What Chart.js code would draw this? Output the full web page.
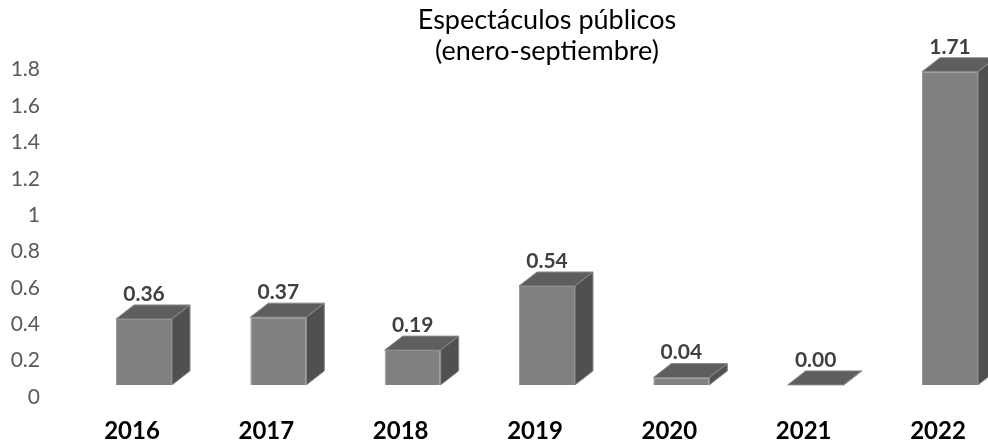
<!DOCTYPE html>
<html><head><meta charset="utf-8">
<script src="https://cdn.jsdelivr.net/npm/chart.js@4/dist/chart.umd.min.js"></script>
<style>html,body{margin:0;padding:0;background:#fff}#wrap{width:988px;height:445px;position:relative}</style>
</head><body><div id="wrap"><canvas id="c"></canvas></div>
<script>
const categories = ['2016', '2017', '2018', '2019', '2020', '2021', '2022'];
const values = [0.36, 0.37, 0.19, 0.54, 0.04, 0.00, 1.71];
const valueLabels = ['0.36', '0.37', '0.19', '0.54', '0.04', '0.00', '1.71'];
const titleLines = ['Espectáculos públicos', '(enero-septiembre)'];
const tickMin = 0, tickMax = 1.8, tickStep = 0.2;

const FONT = 'Lato, "Liberation Sans", sans-serif';
const DEPTH_X = 18, DEPTH_Y = 14;

const bar3d = {
  id: 'bar3d',
  afterDatasetsDraw(chart) {
    const ctx = chart.ctx;
    const meta = chart.getDatasetMeta(0);
    ctx.save();
    meta.data.forEach((el, i) => {
      const p = el.getProps(['x', 'y', 'base', 'width'], true);
      const l = p.x - p.width / 2, r = p.x + p.width / 2, t = p.y, b = p.base;
      // top face
      ctx.beginPath();
      ctx.moveTo(l, t); ctx.lineTo(l + DEPTH_X, t - DEPTH_Y);
      ctx.lineTo(r + DEPTH_X, t - DEPTH_Y); ctx.lineTo(r, t); ctx.closePath();
      ctx.fillStyle = '#5e5e5e'; ctx.fill();
      ctx.strokeStyle = '#8a8a8a'; ctx.lineWidth = 1; ctx.stroke();
      // side face
      ctx.beginPath();
      ctx.moveTo(r, t); ctx.lineTo(r + DEPTH_X, t - DEPTH_Y);
      ctx.lineTo(r + DEPTH_X, b - DEPTH_Y); ctx.lineTo(r, b); ctx.closePath();
      ctx.fillStyle = '#505050'; ctx.fill();
      ctx.strokeStyle = '#8a8a8a'; ctx.stroke();
      // value label
      ctx.fillStyle = '#404040';
      ctx.font = 'bold 21px ' + FONT;
      ctx.textAlign = 'center'; ctx.textBaseline = 'middle';
      ctx.fillText(valueLabels[i], p.x, t - 25);
    });
    ctx.restore();
  }
};

new Chart(document.getElementById('c'), {
  type: 'bar',
  data: {
    labels: categories,
    datasets: [{
      data: values,
      yAxisID: 'y',
      backgroundColor: '#808080',
      borderColor: '#9a9a9a',
      borderWidth: 1,
      barPercentage: 0.417,
      categoryPercentage: 1,
      clip: false
    }]
  },
  options: {
    responsive: true,
    maintainAspectRatio: false,
    animation: false,
    layout: { padding: { left: 0, right: 38, top: 0, bottom: 0 } },
    plugins: {
      legend: { display: false },
      tooltip: { enabled: false },
      title: {
        display: true,
        fullSize: false,
        text: titleLines,
        color: '#000',
        font: { family: FONT, size: 27, weight: 'normal', lineHeight: 1.18 },
        padding: { top: 4, bottom: 2 }
      }
    },
    scales: {
      x: {
        offset: false,
        grid: { display: false },
        border: { display: false },
        ticks: {
          color: '#000',
          font: { family: FONT, size: 24, weight: 'bold' },
          labelOffset: -12,
          padding: 12,
          autoSkip: false,
          maxRotation: 0
        },
        afterFit(s) { s.height = 48; s.paddingLeft = 0; s.paddingRight = 0; }
      },
      y: {
        display: false,
        min: -0.066,
        max: 1.721
      },
      yAxis: {
        position: 'left',
        min: tickMin,
        max: tickMax,
        grid: { display: false, drawTicks: false },
        border: { display: false },
        ticks: {
          stepSize: tickStep,
          color: '#595959',
          font: { family: FONT, size: 21 },
          padding: 104,
          callback: v => String(Math.round(v * 10) / 10)
        },
        afterFit(s) { s.width = 144; s.paddingTop = 0; s.paddingBottom = 0; }
      }
    }
  },
  plugins: [bar3d]
});
</script>
</body></html>
